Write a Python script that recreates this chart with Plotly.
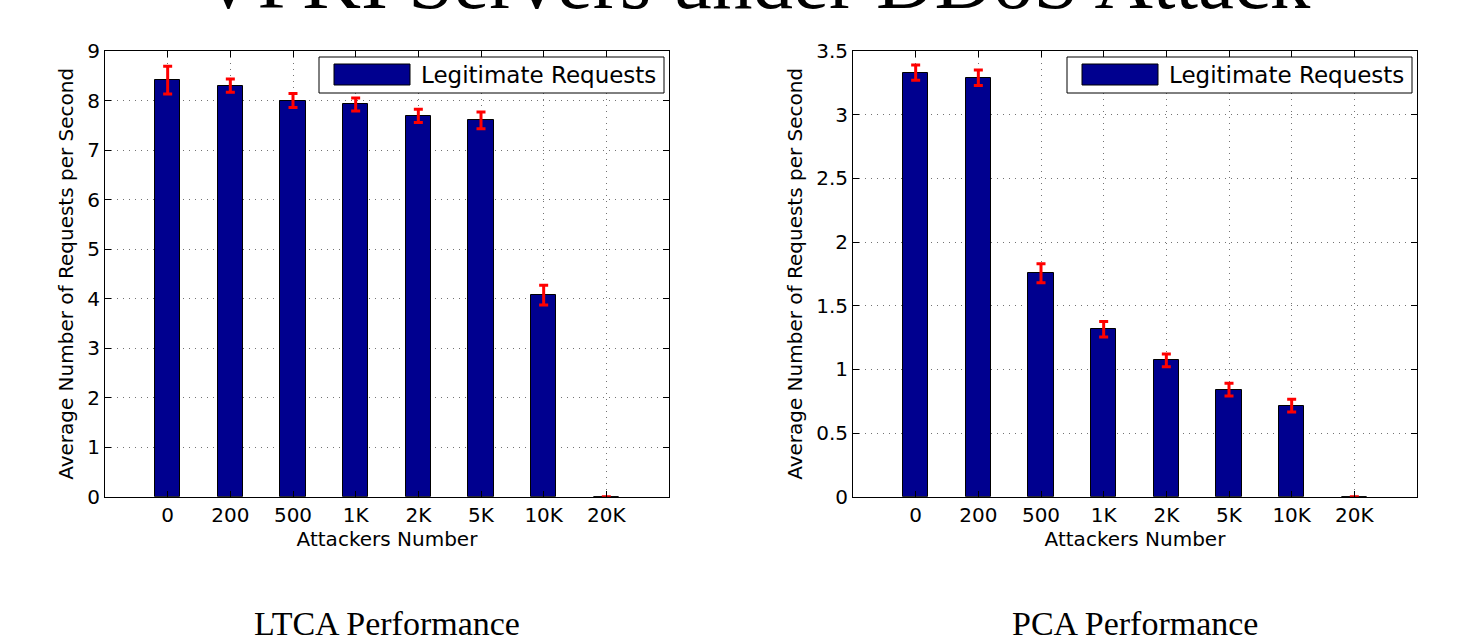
import plotly.graph_objects as go

# ---------------- data ----------------
attackers = ["0", "200", "500", "1K", "2K", "5K", "10K", "20K"]
ltca_rate = [8.41, 8.30, 8.00, 7.92, 7.69, 7.60, 4.07, 0.0]
ltca_err = [0.28, 0.135, 0.14, 0.13, 0.135, 0.17, 0.20, 0.0]
pca_rate = [3.33, 3.29, 1.755, 1.315, 1.07, 0.84, 0.715, 0.0]
pca_err = [0.06, 0.06, 0.075, 0.06, 0.05, 0.05, 0.05, 0.0]
series_name = "Legitimate Requests"
main_title = "VPKI Servers under DDoS Attack"
sub_titles = ["LTCA Performance", "PCA Performance"]
ltca_yticks = [0, 1, 2, 3, 4, 5, 6, 7, 8, 9]
pca_yticks = [0, 0.5, 1, 1.5, 2, 2.5, 3, 3.5]

# ---------------- layout geometry (pixels) ----------------
W, H = 1463, 640
BAR_COLOR = "rgb(0,0,143)"
SANS = "DejaVu Sans"
SERIF = "Liberation Serif"

def px(x):
    return x / W

def py(y):
    return 1 - y / H

plot_top, plot_bottom = 51, 496.7
panels = [
    dict(left=105, right=669),
    dict(left=853, right=1417),
]

fig = go.Figure()

datasets = [(ltca_rate, ltca_err), (pca_rate, pca_err)]
for i, (vals, errs) in enumerate(datasets):
    fig.add_trace(go.Bar(
        x=attackers, y=vals,
        name=series_name,
        width=0.4,
        marker=dict(color=BAR_COLOR, line=dict(color="black", width=1)),
        error_y=dict(type="data", array=errs, visible=True,
                     color="red", thickness=3, width=4.5),
        xaxis="x" if i == 0 else "x2",
        yaxis="y" if i == 0 else "y2",
        showlegend=False,
    ))

axis_common = dict(
    showline=True, linecolor="black", linewidth=1, mirror="ticks",
    ticks="inside", ticklen=6, tickcolor="black",
    showgrid=True, gridcolor="rgba(0,0,0,0.55)", gridwidth=1, griddash="1px,5px",
    zeroline=False, automargin=False,
    tickfont=dict(family=SANS, size=20, color="black"),
)

xdom = [[px(p["left"]), px(p["right"])] for p in panels]
ydom = [py(plot_bottom), py(plot_top)]

fig.update_layout(
    template="none",
    width=W, height=H, autosize=False,
    margin=dict(l=0, r=0, t=0, b=0, pad=0),
    paper_bgcolor="white", plot_bgcolor="white",
    bargap=0,
    xaxis=dict(domain=xdom[0], anchor="y", type="category", range=[-1, 8],
               title=dict(text="Attackers Number", standoff=2,
                          font=dict(family=SANS, size=20, color="black")),
               **axis_common),
    yaxis=dict(domain=ydom, anchor="x", range=[0, 9], tickvals=ltca_yticks,
               title=dict(text="Average Number of Requests per Second", standoff=8,
                          font=dict(family=SANS, size=20, color="black")),
               **axis_common),
    xaxis2=dict(domain=xdom[1], anchor="y2", type="category", range=[-1, 8],
                title=dict(text="Attackers Number", standoff=2,
                           font=dict(family=SANS, size=20, color="black")),
                **axis_common),
    yaxis2=dict(domain=ydom, anchor="x2", range=[0, 3.5], tickvals=pca_yticks,
                title=dict(text="Average Number of Requests per Second", standoff=8,
                           font=dict(family=SANS, size=20, color="black")),
                **axis_common),
)

shapes = []
annotations = []

# custom legends (MATLAB style: wide swatch inside a boxed legend)
for p in panels:
    box_r = p["right"] - 5
    box_l = box_r - 345
    box_t, box_b = 57, 93
    shapes.append(dict(type="rect", xref="paper", yref="paper",
                       x0=px(box_l), x1=px(box_r), y0=py(box_b), y1=py(box_t),
                       line=dict(color="black", width=1), fillcolor="white", layer="above"))
    shapes.append(dict(type="rect", xref="paper", yref="paper",
                       x0=px(box_l + 15), x1=px(box_l + 91), y0=py(85), y1=py(64),
                       line=dict(color="black", width=1), fillcolor=BAR_COLOR, layer="above"))
    annotations.append(dict(text=series_name, xref="paper", yref="paper",
                            x=px(box_l + 100), y=py((box_t + box_b) / 2),
                            xanchor="left", yanchor="middle", showarrow=False,
                            font=dict(family=SANS, size=23, color="black")))

# sub-titles under each panel
for p, t in zip(panels, sub_titles):
    annotations.append(dict(text=t, xref="paper", yref="paper",
                            x=px((p["left"] + p["right"]) / 2), y=0,
                            xanchor="center", yanchor="bottom", yshift=-4,
                            showarrow=False,
                            font=dict(family=SERIF, size=34, color="black")))

# main title (cut off at top as in original)
annotations.append(dict(text=main_title, xref="paper", yref="paper",
                        x=px(755), y=1, xanchor="center", yanchor="top", yshift=66,
                        showarrow=False,
                        font=dict(family=SERIF, size=81, color="black")))

fig.update_layout(shapes=shapes, annotations=annotations)

fig.write_html("out.html")
